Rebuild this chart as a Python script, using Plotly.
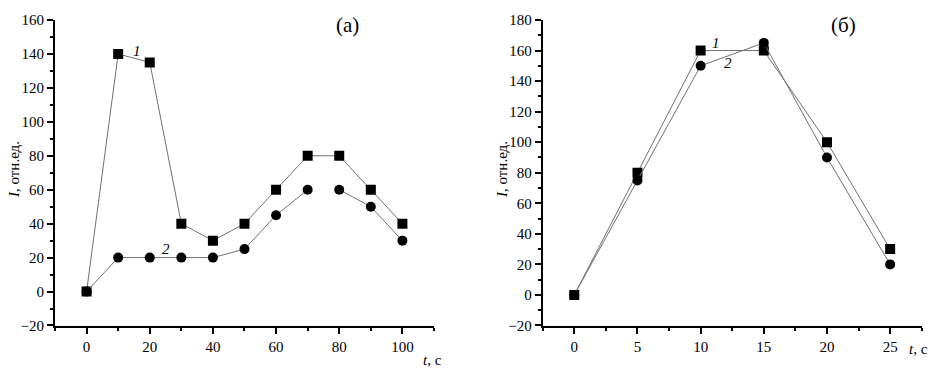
import plotly.graph_objects as go

# ---- data: panel (a) ----
t_a = [0, 10, 20, 30, 40, 50, 60, 70, 80, 90, 100]
I1_a = [0, 140, 135, 40, 30, 40, 60, 80, 80, 60, 40]
I2_a = [0, 20, 20, 20, 20, 25, 45, 60, 60, 50, 30]
gap_a2_after = 70  # series 2 line is broken between 70 and 80

# ---- data: panel (б) ----
t_b = [0, 5, 10, 15, 20, 25]
I1_b = [0, 80, 160, 160, 100, 30]
I2_b = [0, 75, 150, 165, 90, 20]

FONT = "Times New Roman"
LINE = "#707070"

fig = go.Figure()

def add_series(x, y, sym, xa, ya, gap_after=None):
    lx, ly = [], []
    for xi, yi in zip(x, y):
        lx.append(xi); ly.append(yi)
        if gap_after is not None and xi == gap_after:
            lx.append(None); ly.append(None)
    fig.add_trace(go.Scatter(x=lx, y=ly, mode="lines", line=dict(color=LINE, width=1),
                             xaxis=xa, yaxis=ya, showlegend=False, hoverinfo="skip"))
    fig.add_trace(go.Scatter(x=x, y=y, mode="markers",
                             marker=dict(symbol=sym, size=10, color="black", line=dict(width=0)),
                             xaxis=xa, yaxis=ya, showlegend=False))

add_series(t_a, I1_a, "square", "x", "y")
add_series(t_a, I2_a, "circle", "x", "y", gap_after=gap_a2_after)
add_series(t_b, I1_b, "square", "x2", "y2")
add_series(t_b, I2_b, "circle", "x2", "y2")

axis_common = dict(showline=True, linecolor="black", linewidth=2, ticks="outside",
                   ticklen=6, tickwidth=2, tickcolor="black", showgrid=False, zeroline=False,
                   automargin=False,
                   tickfont=dict(family=FONT, size=15, color="black"))
minor = dict(ticks="outside", ticklen=3, tickwidth=1.5, tickcolor="black")

fig.update_layout(
    width=942, height=375, margin=dict(l=0, r=0, t=0, b=0),
    plot_bgcolor="white", paper_bgcolor="white",
    font=dict(family=FONT),
    xaxis=dict(domain=[0.0584, 0.4607], range=[-10, 110], anchor="y", tick0=0, dtick=20,
               minor=dict(dtick=10, **minor), **axis_common),
    yaxis=dict(domain=[0.132, 0.9467], range=[-20, 160], anchor="x", tick0=0, dtick=20,
               minor=dict(dtick=10, **minor), **axis_common),
    xaxis2=dict(domain=[0.5761, 0.9785], range=[-2.5, 27.5], anchor="y2", tick0=0, dtick=5,
                minor=dict(dtick=2.5, **minor), **axis_common),
    yaxis2=dict(domain=[0.132, 0.9467], range=[-20, 180], anchor="x2", tick0=0, dtick=20,
                minor=dict(dtick=10, **minor), **axis_common),
)

anns = [
    dict(text="(a)", x=347, y=25, size=21),
    dict(text="(б)", x=843, y=25, size=21),
    dict(text="<i>t</i>, с", x=432, y=360, size=15),
    dict(text="<i>t</i>, с", x=918, y=349, size=15),
]
for a in anns:
    fig.add_annotation(text=a["text"], x=a["x"] / 942, y=1 - a["y"] / 375, xref="paper", yref="paper",
                       showarrow=False, font=dict(family=FONT, size=a["size"], color="black"),
                       xanchor="center", yanchor="middle")
for xp in (14, 502):
    fig.add_annotation(text="<i>I</i>, отн.ед.", x=xp / 942, y=1 - 170 / 375, xref="paper", yref="paper",
                       showarrow=False, textangle=-90, font=dict(family=FONT, size=15, color="black"),
                       xanchor="center", yanchor="middle")

# curve labels
for txt, xv, yv, xr, yr in [("1", 16, 142, "x", "y"), ("2", 25, 25, "x", "y"),
                            ("1", 11.2, 165, "x2", "y2"), ("2", 12.2, 152, "x2", "y2")]:
    fig.add_annotation(text=f"<i>{txt}</i>", x=xv, y=yv, xref=xr, yref=yr, showarrow=False,
                       font=dict(family=FONT, size=15, color="black"))

fig.write_html(
    "out.html",
    config={"displayModeBar": False},
    post_script="document.body.style.margin='0';",
)
